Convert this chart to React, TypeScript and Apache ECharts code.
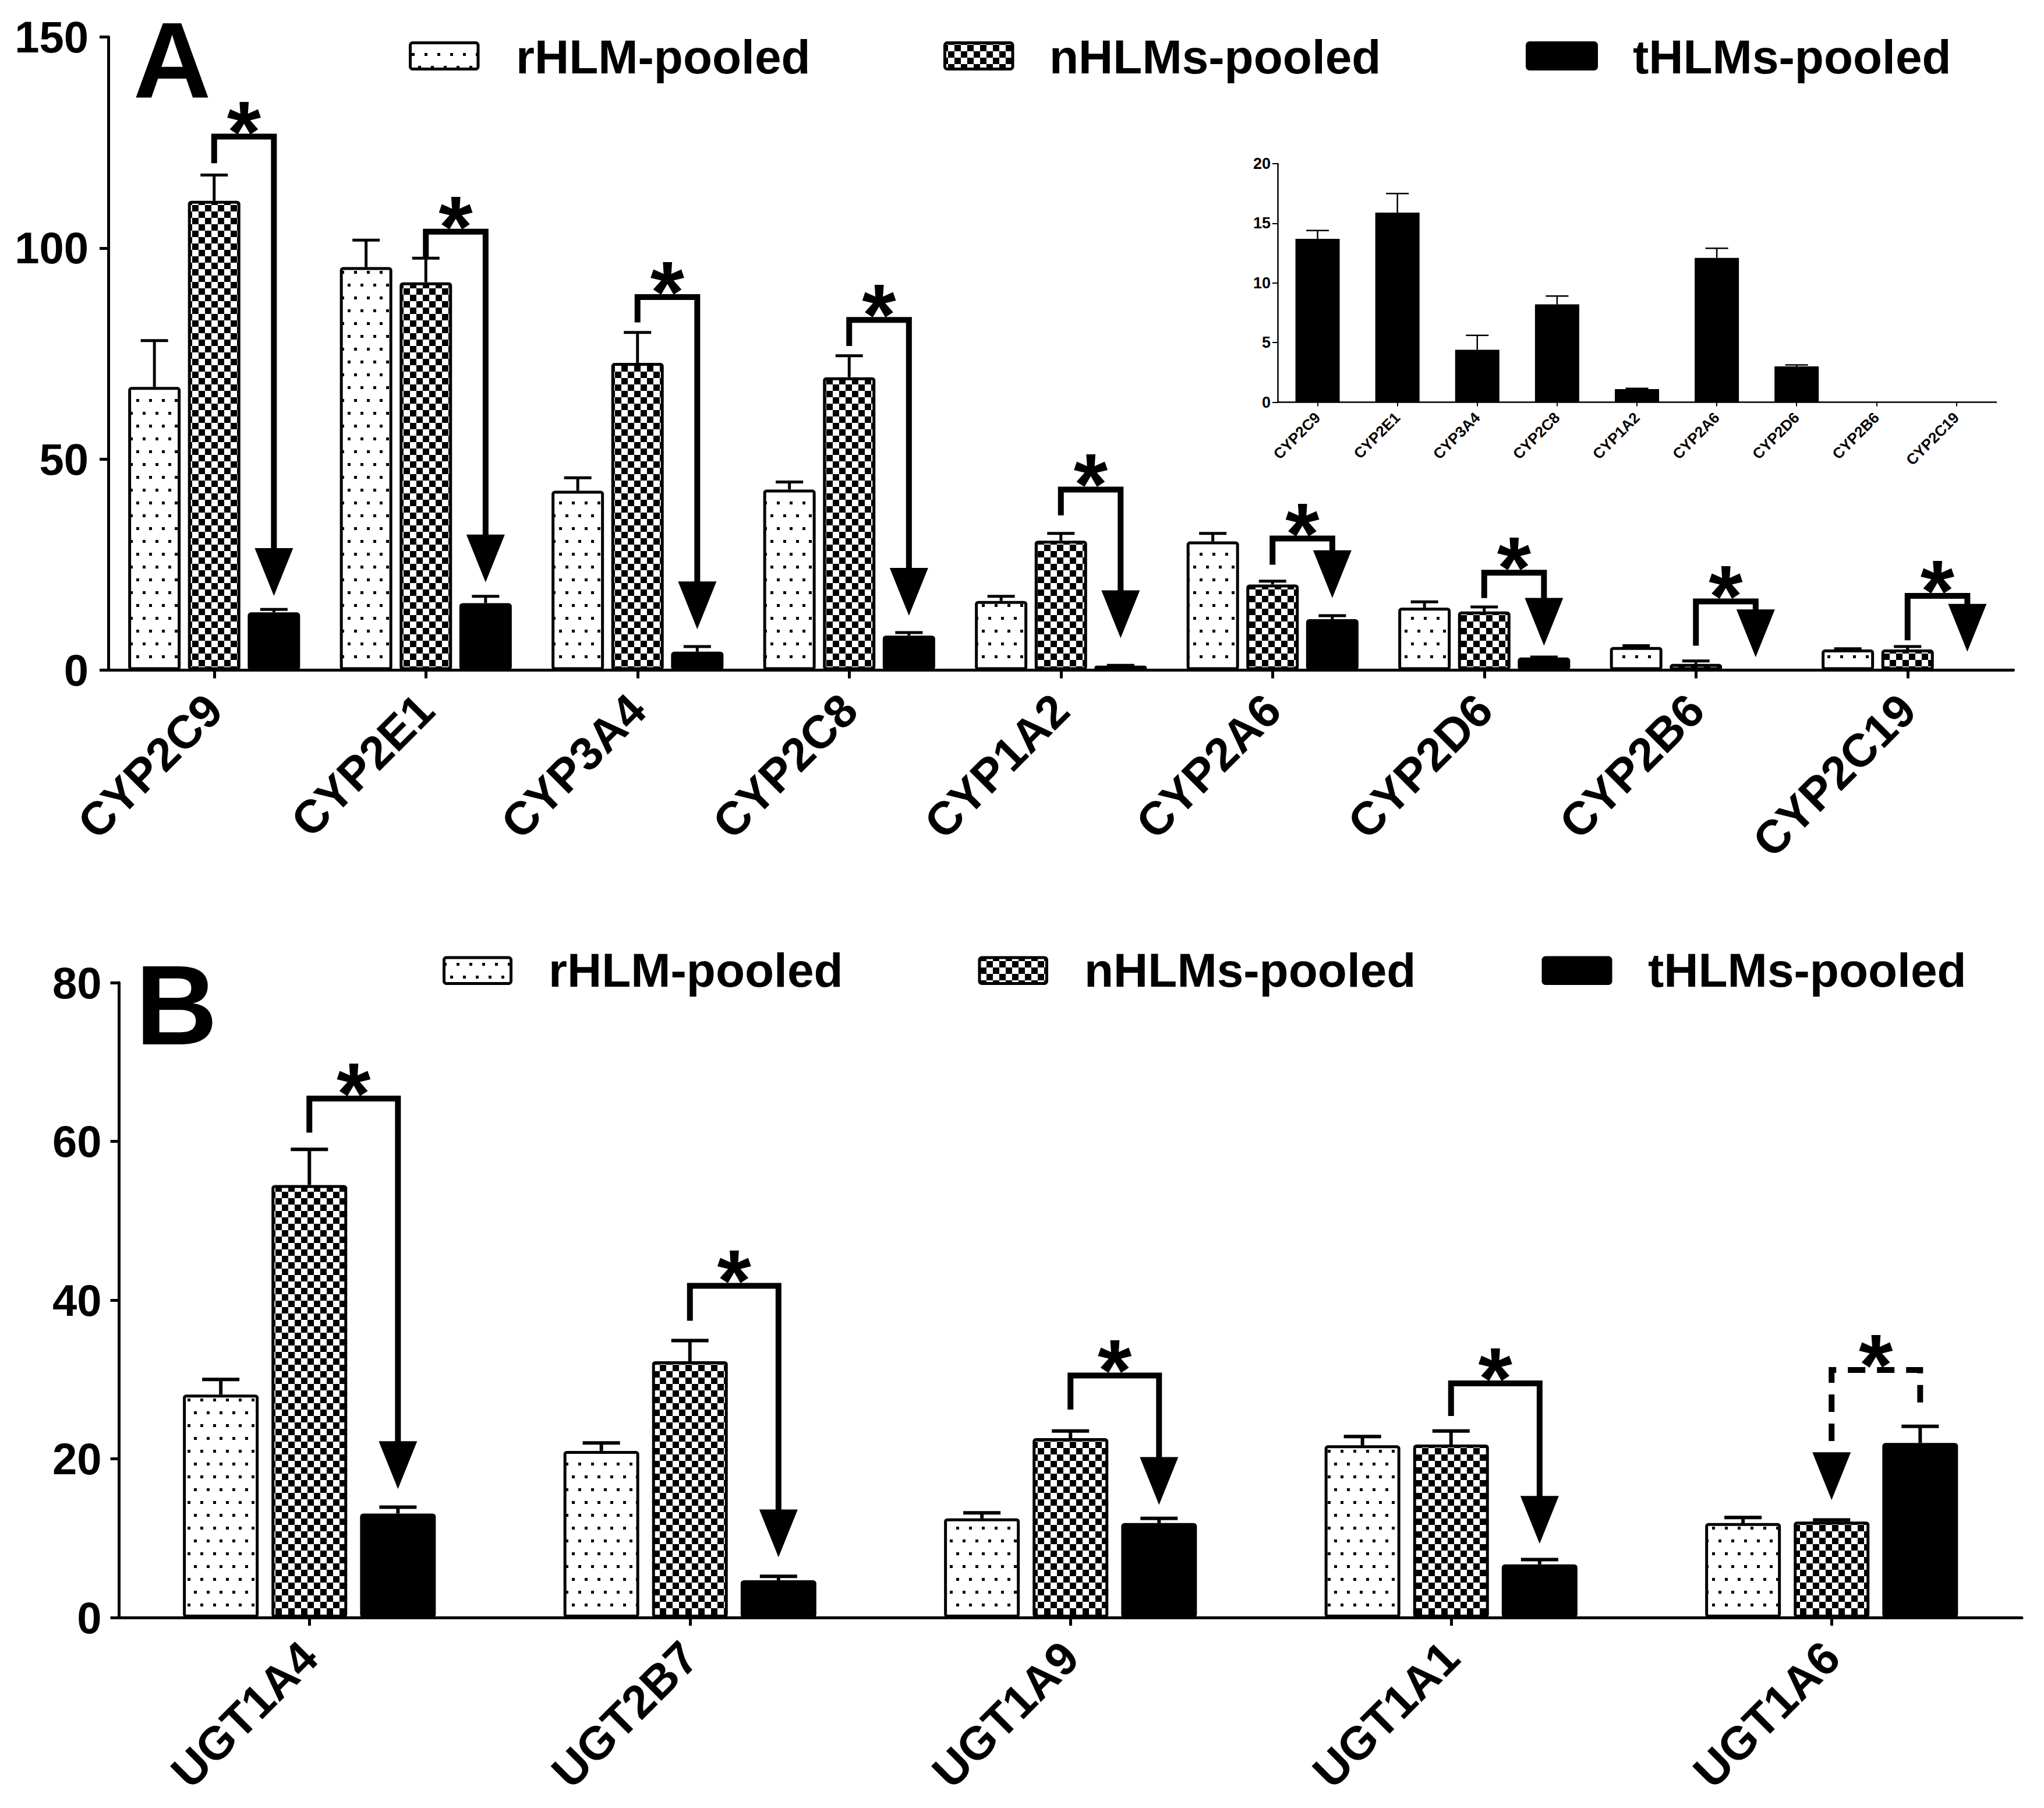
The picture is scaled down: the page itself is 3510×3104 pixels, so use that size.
import React, { useEffect, useRef } from 'react';
import * as echarts from 'echarts';

const FONT = '"Liberation Sans", Arial, Helvetica, sans-serif';

const seriesNames = ['rHLM-pooled', 'nHLMs-pooled', 'tHLMs-pooled'];

// ---- Panel A (CYP) ----
const cypCategories = ['CYP2C9', 'CYP2E1', 'CYP3A4', 'CYP2C8', 'CYP1A2', 'CYP2A6', 'CYP2D6', 'CYP2B6', 'CYP2C19'];
const cypRhlm = [67.1, 95.5, 42.5, 42.8, 16.4, 30.5, 14.8, 5.5, 4.9];
const cypRhlmErr = [11.0, 6.4, 3.1, 1.8, 1.1, 1.9, 1.4, 0.3, 0.2];
const cypNhlm = [111.2, 91.9, 72.8, 69.4, 30.7, 20.3, 13.9, 1.5, 4.9];
const cypNhlmErr = [6.1, 5.7, 7.2, 5.1, 1.7, 0.8, 1.1, 0.7, 0.7];
const cypThlm = [13.7, 15.9, 4.4, 8.2, 1.1, 12.1, 3.0, 0, 0];
const cypThlmErr = [0.7, 1.6, 1.2, 0.7, 0.06, 0.8, 0.13, 0, 0];
// [categoryIndex, fromBar, toBar, legBottom, top, arrowTip, dashed]
const cypBrackets = [
  [0, 1, 2, 120.1, 126.4, 17.6, 0],
  [1, 1, 2, 97.6, 103.9, 20.8, 0],
  [2, 1, 2, 82.4, 88.4, 9.7, 0],
  [3, 1, 2, 76.8, 83.0, 12.9, 0],
  [4, 1, 2, 36.7, 42.8, 7.6, 0],
  [5, 1, 2, 25.0, 31.2, 17.1, 0],
  [6, 1, 2, 17.1, 23.1, 5.8, 0],
  [7, 1, 2, 5.8, 16.3, 3.1, 0],
  [8, 1, 2, 7.1, 17.6, 4.4, 0],
];

// ---- Panel B (UGT) ----
const ugtCategories = ['UGT1A4', 'UGT2B7', 'UGT1A9', 'UGT1A1', 'UGT1A6'];
const ugtRhlm = [28.1, 21.0, 12.5, 21.7, 11.9];
const ugtRhlmErr = [1.9, 1.0, 0.7, 1.1, 0.7];
const ugtNhlm = [54.5, 32.3, 22.6, 21.8, 12.1];
const ugtNhlmErr = [4.5, 2.6, 0.9, 1.7, 0.2];
const ugtThlm = [13.1, 4.7, 11.9, 6.7, 22.0];
const ugtThlmErr = [0.8, 0.5, 0.6, 0.6, 2.1];
const ugtBrackets = [
  [0, 1, 2, 61.1, 65.4, 16.2, 0],
  [1, 1, 2, 37.4, 41.8, 7.6, 0],
  [2, 1, 2, 26.2, 30.5, 14.2, 0],
  [3, 1, 2, 25.4, 29.5, 9.3, 0],
  [4, 2, 1, 27.1, 31.2, 14.8, 1],
];

// axis ranges
const cypAxis = { min: 0, max: 150, interval: 50 };
const ugtAxis = { min: 0, max: 80, interval: 20 };
const insetAxis = { min: 0, max: 20, interval: 5 };

function makeDots() {
  const c = document.createElement('canvas');
  c.width = 22; c.height = 44;
  const ctx = c.getContext('2d')!;
  ctx.fillStyle = '#fff'; ctx.fillRect(0, 0, 22, 44);
  ctx.fillStyle = '#000';
  ctx.fillRect(3, 3, 5, 5);
  ctx.fillRect(14, 25, 5, 5);
  return { image: c, repeat: 'repeat', imageWidth: 22, imageHeight: 44 } as any;
}
function makeChecker() {
  const c = document.createElement('canvas');
  c.width = 22; c.height = 22;
  const ctx = c.getContext('2d')!;
  ctx.fillStyle = '#fff'; ctx.fillRect(0, 0, 22, 22);
  ctx.fillStyle = '#000';
  ctx.fillRect(0, 0, 11, 11);
  ctx.fillRect(11, 11, 11, 11);
  return { image: c, repeat: 'repeat', imageWidth: 22, imageHeight: 22 } as any;
}

const errRender = (offsetPx: number, cap: number, lw: number) => (params: any, api: any) => {
  const i = api.value(0);
  const v = api.value(1);
  const e = api.value(2);
  if (!e) return { type: 'group', children: [] };
  const p0 = api.coord([i, v]);
  const p1 = api.coord([i, v + e]);
  const x = p0[0] + offsetPx;
  const st = { stroke: '#000', lineWidth: lw, fill: 'none' };
  return {
    type: 'group',
    children: [
      { type: 'line', shape: { x1: x, y1: p0[1], x2: x, y2: p1[1] }, style: st },
      { type: 'line', shape: { x1: x - cap / 2, y1: p1[1], x2: x + cap / 2, y2: p1[1] }, style: st },
    ],
  };
};

const bracketRender = (step: number) => (params: any, api: any) => {
  const cat = api.value(0);
  const s = api.value(1);
  const e = api.value(2);
  const pB = api.coord([cat, api.value(3)]);
  const pT = api.coord([cat, api.value(4)]);
  const pTip = api.coord([cat, api.value(5)]);
  const dashed = api.value(6);
  const xs = pB[0] + (s - 1) * step;
  const xe = pB[0] + (e - 1) * step;
  const aH = 82;
  const aW = 66;
  return {
    type: 'group',
    children: [
      {
        type: 'polyline',
        shape: { points: [[xs, pB[1]], [xs, pT[1]], [xe, pT[1]], [xe, pTip[1] - aH + 2]] },
        style: { stroke: '#000', lineWidth: 10, fill: 'none', lineJoin: 'miter', lineCap: 'butt', lineDash: dashed ? [30, 20] : null },
      },
      {
        type: 'polygon',
        shape: { points: [[xe - aW / 2, pTip[1] - aH], [xe + aW / 2, pTip[1] - aH], [xe, pTip[1]]] },
        style: { fill: '#000' },
      },
      {
        type: 'text',
        style: {
          text: '*', x: (xs + xe) / 2, y: pT[1] - 8, fill: '#000',
          font: `bold 150px ${FONT}`, textAlign: 'center', textVerticalAlign: 'middle', lineHeight: 90,
        },
      },
    ],
  };
};

function xAxisMain(gridIndex: number, data: string[]) {
  return {
    type: 'category', gridIndex, data,
    axisLine: { show: true, lineStyle: { color: '#000', width: 5 } },
    axisTick: { show: true, alignWithLabel: true, length: 14, lineStyle: { color: '#000', width: 5 } },
    axisLabel: { interval: 0, rotate: 45, margin: 55, color: '#000', fontSize: 80, fontWeight: 'bold', fontFamily: FONT },
    splitLine: { show: false },
  };
}
function yAxisMain(gridIndex: number, r: any, margin: number) {
  return {
    type: 'value', gridIndex, min: r.min, max: r.max, interval: r.interval,
    axisLine: { show: true, lineStyle: { color: '#000', width: 5 } },
    axisTick: { show: true, length: 15, lineStyle: { color: '#000', width: 5 } },
    axisLabel: { margin, color: '#000', fontSize: 76, fontWeight: 'bold', fontFamily: FONT },
    splitLine: { show: false },
  };
}

function legendGraphics(boxes: number[][], textXs: number[], textY: number, fills: any[]) {
  const els: any[] = [];
  boxes.forEach((b, k) => {
    els.push({
      type: 'rect', shape: { x: b[0], y: b[1], width: b[2], height: b[3], r: 4 },
      style: { fill: fills[k], stroke: '#000', lineWidth: 5 },
    });
    els.push({
      type: 'text', x: textXs[k], y: textY,
      style: { text: seriesNames[k], fill: '#000', font: `bold 82px ${FONT}`, textAlign: 'left', textVerticalAlign: 'middle' },
    });
  });
  return els;
}

export default function App() {
  const ref = useRef<HTMLDivElement>(null);
  useEffect(() => {
    if (!ref.current) return;
    const chart = echarts.init(ref.current, undefined, { renderer: 'svg' });
    const dots = makeDots();
    const checker = makeChecker();
    const fills = [dots, checker, '#000'];

    const WA = 90, GA = 0.14, stepA = WA * (1 + GA);
    const WB = 130, GB = 0.17, stepB = WB * (1 + GB);

    const barSeries = (name: string, k: number, xi: number, data: number[], w: number, gap: number) => ({
      type: 'bar', name, xAxisIndex: xi, yAxisIndex: xi, data, barWidth: w, barGap: `${Math.round(gap * 100)}%`,
      itemStyle: { color: fills[k], borderColor: '#000', borderWidth: 5, borderRadius: 3 },
      silent: true,
    });
    const errSeries = (xi: number, vals: number[], errs: number[], off: number, cap: number, lw: number) => ({
      type: 'custom', xAxisIndex: xi, yAxisIndex: xi, silent: true, z: 3,
      data: vals.map((v, i) => [i, v, errs[i]]),
      encode: { x: 0, y: 1 },
      renderItem: errRender(off, cap, lw),
    });
    const bracketSeries = (xi: number, br: number[][], step: number) => ({
      type: 'custom', xAxisIndex: xi, yAxisIndex: xi, silent: true, z: 4,
      data: br,
      encode: { x: 0, y: [3, 4, 5] },
      renderItem: bracketRender(step),
    });

    const option: any = {
      animation: false,
      backgroundColor: '#fff',
      grid: [
        { left: 186, top: 63.6, width: 3271.5, height: 1087, outerBoundsMode: 'none', containLabel: false },
        { left: 204.5, top: 1687, width: 3267.5, height: 1090, outerBoundsMode: 'none', containLabel: false },
        { left: 2194, top: 281, width: 1234, height: 409.5, outerBoundsMode: 'none', containLabel: false },
      ],
      xAxis: [
        xAxisMain(0, cypCategories),
        xAxisMain(1, ugtCategories),
        {
          type: 'category', gridIndex: 2, data: cypCategories,
          axisLine: { show: true, lineStyle: { color: '#000', width: 2.5 } },
          axisTick: { show: true, alignWithLabel: true, length: 7, lineStyle: { color: '#000', width: 2 } },
          axisLabel: { interval: 0, rotate: 45, margin: 22, color: '#000', fontSize: 26, fontWeight: 'bold', fontFamily: FONT },
          splitLine: { show: false },
        },
      ],
      yAxis: [
        yAxisMain(0, cypAxis, 34),
        yAxisMain(1, ugtAxis, 30),
        {
          type: 'value', gridIndex: 2, min: insetAxis.min, max: insetAxis.max, interval: insetAxis.interval,
          axisLine: { show: true, lineStyle: { color: '#000', width: 2.5 } },
          axisTick: { show: true, length: 9, lineStyle: { color: '#000', width: 2 } },
          axisLabel: { margin: 12, color: '#000', fontSize: 27, fontWeight: 'bold', fontFamily: FONT },
          splitLine: { show: false },
        },
      ],
      series: [
        barSeries(seriesNames[0], 0, 0, cypRhlm, WA, GA),
        barSeries(seriesNames[1], 1, 0, cypNhlm, WA, GA),
        barSeries(seriesNames[2], 2, 0, cypThlm, WA, GA),
        errSeries(0, cypRhlm, cypRhlmErr, -stepA, 47, 5),
        errSeries(0, cypNhlm, cypNhlmErr, 0, 47, 5),
        errSeries(0, cypThlm, cypThlmErr, stepA, 47, 5),
        bracketSeries(0, cypBrackets, stepA),

        barSeries(seriesNames[0], 0, 1, ugtRhlm, WB, GB),
        barSeries(seriesNames[1], 1, 1, ugtNhlm, WB, GB),
        barSeries(seriesNames[2], 2, 1, ugtThlm, WB, GB),
        errSeries(1, ugtRhlm, ugtRhlmErr, -stepB, 64, 6),
        errSeries(1, ugtNhlm, ugtNhlmErr, 0, 64, 6),
        errSeries(1, ugtThlm, ugtThlmErr, stepB, 64, 6),
        bracketSeries(1, ugtBrackets, stepB),

        {
          type: 'bar', name: seriesNames[2], xAxisIndex: 2, yAxisIndex: 2, data: cypThlm, barWidth: 76,
          itemStyle: { color: '#000' }, silent: true,
        },
        errSeries(2, cypThlm, cypThlmErr, 0, 39, 2.5),
      ],
      graphic: [
        {
          type: 'text', x: 295.5, y: 104,
          style: { text: 'A', fill: '#000', font: `bold 185px ${FONT}`, textAlign: 'center', textVerticalAlign: 'middle' },
        },
        {
          type: 'text', x: 303, y: 1725,
          style: { text: 'B', fill: '#000', font: `bold 195px ${FONT}`, textAlign: 'center', textVerticalAlign: 'middle' },
        },
        ...legendGraphics(
          [[704.5, 73.5, 116.5, 45], [1622.5, 73.5, 116.5, 45], [2622.5, 73.5, 119, 45]],
          [886, 1802, 2804], 97, fills,
        ),
        ...legendGraphics(
          [[762.5, 1644, 115, 44.5], [1682, 1644, 115.5, 44.5], [2650, 1644, 116, 44.5]],
          [942, 1862, 2830], 1665, fills,
        ),
      ],
    };
    chart.setOption(option);
    return () => chart.dispose();
  }, []);
  return (
    <div
      ref={ref}
      style={{ position: 'absolute', left: 0, top: 0, width: 3510, height: 3104, background: '#fff' }}
    />
  );
}
